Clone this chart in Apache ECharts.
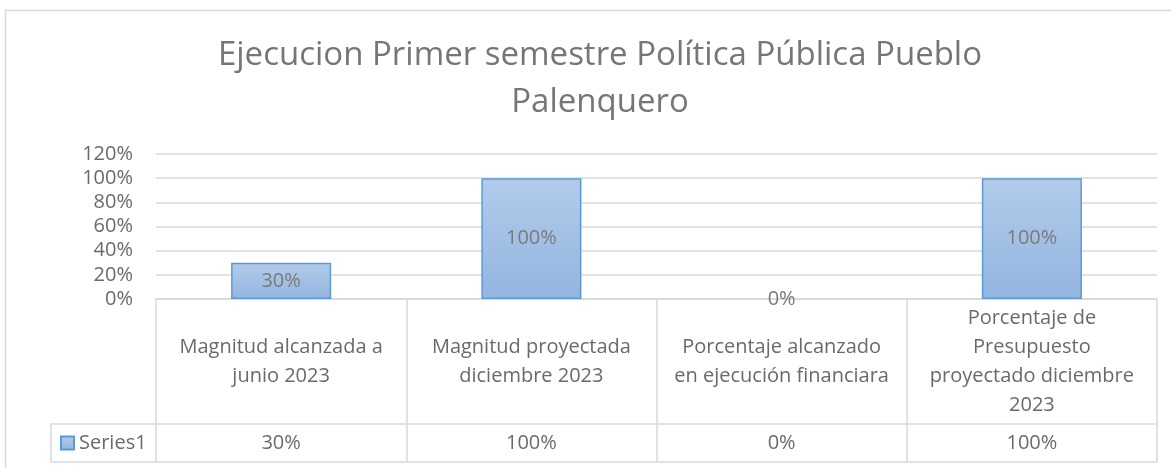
<!DOCTYPE html>
<html>
<head>
<meta charset="utf-8">
<script src="https://cdn.jsdelivr.net/npm/echarts@6/dist/echarts.min.js"></script>
<style>
  html, body { margin: 0; padding: 0; background: #fff; }
  #chart { width: 1171px; height: 468px; }
</style>
</head>
<body>
<div id="chart"></div>
<script>
// datos del gráfico
const titleText = 'Ejecucion Primer semestre Política Pública Pueblo\nPalenquero'
const seriesName = 'Series1'
const categories = [
    'Magnitud alcanzada a\njunio 2023',
    'Magnitud proyectada\ndiciembre 2023',
    'Porcentaje alcanzado\nen ejecución financiara',
    'Porcentaje de\nPresupuesto\nproyectado diciembre\n2023'
]
const seriesValues = [0.30, 1.00, 0.00, 1.00]
const yTicks = [0, 0.2, 0.4, 0.6, 0.8, 1.0, 1.2]

// layout
const FONT = '"Open Sans", "Noto Sans", sans-serif'
const TEXT = '#6a6a6a'
const LINE = '#d9d9d9'
const GRID_LEFT = 156
const GRID_RIGHT = 14
const GRID_TOP = 154
const GRID_BOTTOM = 169   // 468 - 299
const HEADER_H = 125      // fila de categorías
const ROW_H = 38          // fila de valores
const LEGEND_X = 51

const pct = v => Math.round(v * 100) + '%'

const axisY = 468 - GRID_BOTTOM
const rowTop = axisY + HEADER_H
const rowBottom = rowTop + ROW_H

const dom = document.getElementById('chart')
const myChart = echarts.init(dom, null, { renderer: 'canvas' })

const option = {
    animation: false,
    backgroundColor: '#fff',
    textStyle: { fontFamily: FONT },
    title: {
        text: titleText,
        left: 595,
        textAlign: 'center',
        top: 27,
        textStyle: {
            fontFamily: FONT,
            fontSize: 33,
            fontWeight: 'normal',
            color: '#767676',
            lineHeight: 47
        }
    },
    legend: {
        data: [seriesName],
        left: LEGEND_X + 4,
        top: rowTop + ROW_H / 2 - 15,
        icon: 'rect',
        itemWidth: 13,
        itemHeight: 13,
        textStyle: { fontFamily: FONT, fontSize: 20, color: TEXT }
    },
    grid: {
        left: GRID_LEFT,
        right: GRID_RIGHT,
        top: GRID_TOP,
        bottom: GRID_BOTTOM,
        containLabel: false
    },
    xAxis: [
        {
            type: 'category',
            data: categories,
            position: 'bottom',
            axisLine: { show: true, lineStyle: { color: LINE, width: 1.5 } },
            axisTick: { show: true, interval: 0, length: HEADER_H + ROW_H, lineStyle: { color: LINE, width: 1.5 } },
            axisLabel: {
                interval: 0,
                margin: 63,
                verticalAlign: 'middle',
                fontFamily: FONT,
                fontSize: 20,
                lineHeight: 29,
                color: TEXT
            }
        },
        {
            type: 'category',
            data: categories,
            position: 'bottom',
            offset: HEADER_H,
            axisLine: { show: true, lineStyle: { color: LINE, width: 1.5 } },
            axisTick: { show: false },
            axisLabel: {
                interval: 0,
                margin: ROW_H / 2,
                verticalAlign: 'middle',
                fontFamily: FONT,
                fontSize: 20,
                color: TEXT,
                formatter: (v, i) => pct(seriesValues[i])
            }
        }
    ],
    yAxis: {
        type: 'value',
        min: yTicks[0],
        max: yTicks[yTicks.length - 1],
        interval: yTicks[1] - yTicks[0],
        axisLine: { show: false },
        axisTick: { show: false },
        splitLine: { lineStyle: { color: LINE, width: 1.5 } },
        axisLabel: {
            margin: 23,
            fontFamily: FONT,
            fontSize: 20,
            color: TEXT,
            formatter: v => pct(v)
        }
    },
    series: [
        {
            name: seriesName,
            type: 'bar',
            // una barra en 0 no dibuja borde
            data: seriesValues.map(v => v === 0 ? { value: v, itemStyle: { borderWidth: 0 } } : v),
            barWidth: '40%',
            itemStyle: {
                color: new echarts.graphic.LinearGradient(0, 0, 0, 1, [
                    { offset: 0, color: '#b2cbea' },
                    { offset: 1, color: '#93b5e0' }
                ]),
                borderColor: '#5b9bd5',
                borderWidth: 1.5
            },
            label: {
                show: true,
                position: 'inside',
                fontFamily: FONT,
                fontSize: 20,
                color: '#7a7a7a',
                formatter: p => pct(p.value)
            }
        }
    ],
    graphic: [
        // borde exterior del gráfico
        {
            type: 'rect',
            shape: { x: 5.5, y: 10.5, width: 1200, height: 500 },
            style: { fill: null, stroke: LINE, lineWidth: 1.5 },
            silent: true
        },
        // celda de leyenda de la tabla
        {
            type: 'polyline',
            shape: { points: [[GRID_LEFT, rowTop], [LEGEND_X, rowTop], [LEGEND_X, rowBottom], [1171 - GRID_RIGHT, rowBottom]] },
            style: { fill: null, stroke: LINE, lineWidth: 1.5 },
            silent: true
        }
    ]
}

myChart.setOption(option)

window.addEventListener('resize', () => {
    myChart.resize()
})
</script>
</body>
</html>
